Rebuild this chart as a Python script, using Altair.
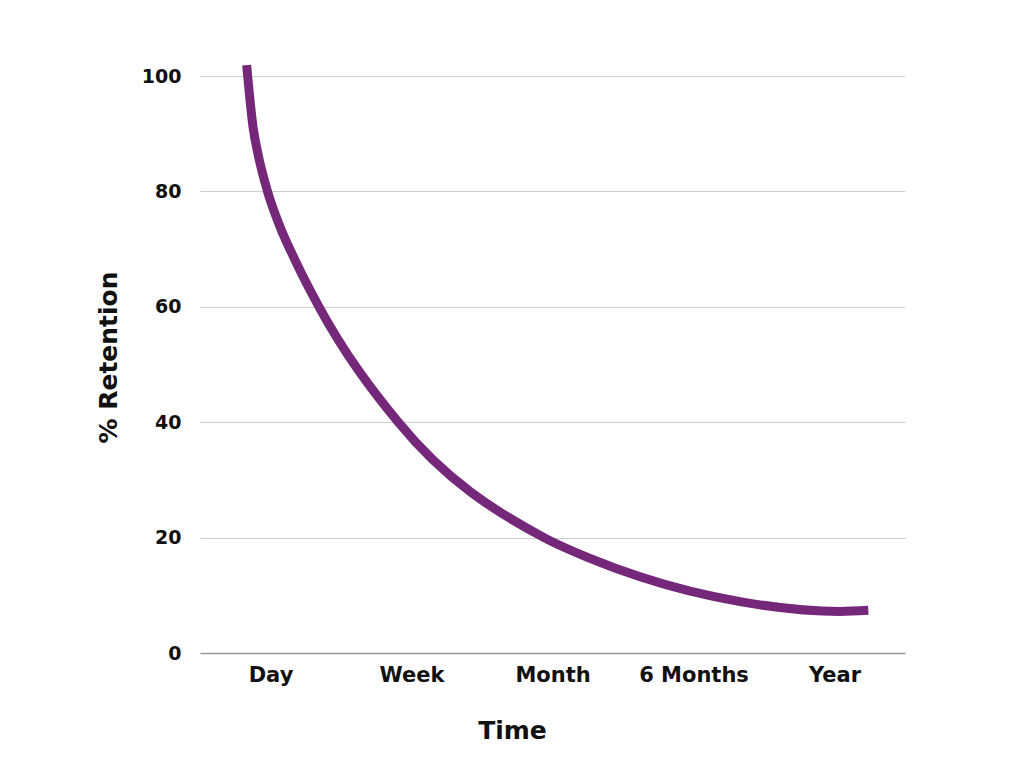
import json
import altair as alt
import pandas as pd

categories = ["Day", "Week", "Month", "6 Months", "Year"]

# curve samples: x in category-band units (band i centred at i + 0.5)
curve_x = [0.331, 0.376, 0.413, 0.479, 0.567, 0.674, 0.844, 1.406, 2.440,
           2.766, 3.121, 3.830, 4.539, 4.740]
retention = [101.9, 91.2, 86.3, 80.0, 73.9, 68.1, 60.0, 40.0, 20.0,
             16.4, 13.2, 8.9, 7.2, 7.4]

df = pd.DataFrame({"t": curve_x, "r": retention})

FONT = "DejaVu Sans"
label_expr = json.dumps(categories) + "[floor(datum.value)]"

chart = alt.Chart(df).mark_line(
    color="#75287A", strokeWidth=9, interpolate="monotone", clip=False
).encode(
    x=alt.X("t:Q", scale=alt.Scale(domain=[0, 5], nice=False),
            axis=alt.Axis(values=[0.5, 1.5, 2.5, 3.5, 4.5], labelExpr=label_expr,
                          grid=False, ticks=False, domain=True, domainColor="#999999",
                          domainWidth=1.5, labelFont=FONT, labelFontSize=21,
                          labelFontWeight="bold", labelColor="#111111", labelPadding=11,
                          title="Time", titleFont=FONT, titleFontSize=25,
                          titleFontWeight="bold", titleColor="#111111",
                          titleX=312, titleY=77, titleBaseline="middle",
                          titleAnchor="start", titleAlign="center")),
    y=alt.Y("r:Q", scale=alt.Scale(domain=[0, 100], nice=False),
            axis=alt.Axis(values=[0, 20, 40, 60, 80, 100], grid=True,
                          gridColor="#cccccc", gridWidth=1, ticks=False, domain=False,
                          labelFont=FONT, labelFontSize=19, labelFontWeight="bold",
                          labelColor="#111111", labelPadding=19,
                          title="% Retention", titleFont=FONT, titleFontSize=25,
                          titleFontWeight="bold", titleColor="#111111",
                          titleX=-92, titleY=281, titleAngle=-90,
                          titleBaseline="middle", titleAlign="center")),
).properties(
    width=705, height=577,
    padding={"left": 192, "top": 68, "right": 111, "bottom": 107},
    autosize=alt.AutoSizeParams(type="none"),
).configure_view(stroke=None)

chart.save("out.html", embed_options={"renderer": "svg", "actions": False})
